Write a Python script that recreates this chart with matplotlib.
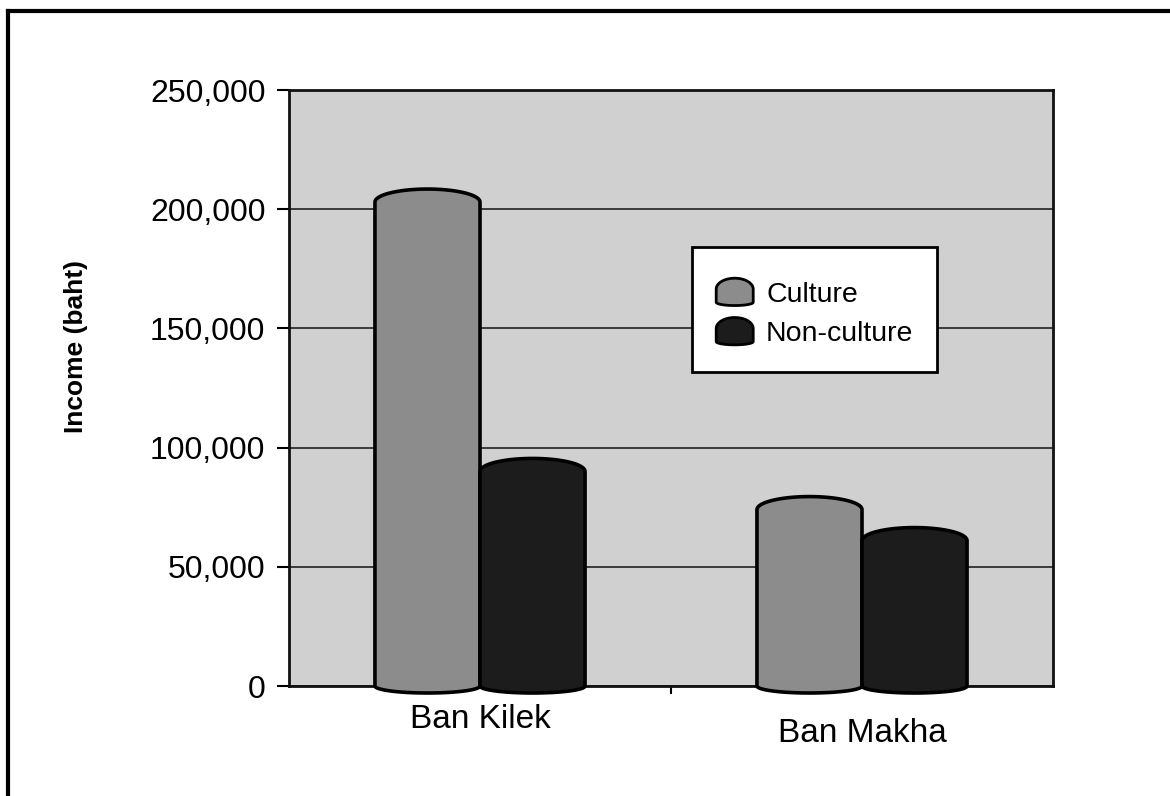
import numpy as np
import matplotlib
matplotlib.use("Agg")
import matplotlib.pyplot as plt
from matplotlib.path import Path
from matplotlib.patches import PathPatch, Rectangle
from matplotlib.legend_handler import HandlerPatch
from matplotlib.lines import Line2D
from matplotlib.ticker import FuncFormatter

plt.rcParams['font.family'] = ['Liberation Sans', 'DejaVu Sans']

villages = ["Ban Kilek", "Ban Makha"]
series = ["Culture", "Non-culture"]
culture = [203000, 74000]
non_culture = [90000, 61000]
yticks = [0, 50000, 100000, 150000, 200000, 250000]

colors = ["#8c8c8c", "#1c1c1c"]
bg = "#d0d0d0"


def cylinder_path(x0, x1, top, bottom, cap_top, cap_bot, n=40):
    # side walls with a dome on top and a shallow arc underneath
    xc = (x0 + x1) / 2
    a = (x1 - x0) / 2
    t1 = np.linspace(np.pi, 0, n)
    t2 = np.linspace(0, -np.pi, n)
    pts = [(x0, bottom), (x0, top)]
    pts += list(zip(xc + a * np.cos(t1), top + cap_top * np.sin(t1)))
    pts += [(x1, top), (x1, bottom)]
    pts += list(zip(xc + a * np.cos(t2), bottom + cap_bot * np.sin(t2)))
    pts.append((x0, bottom))
    codes = [Path.MOVETO] + [Path.LINETO] * (len(pts) - 2) + [Path.CLOSEPOLY]
    return Path(pts, codes)


fig = plt.figure(figsize=(11.7, 7.96), dpi=100)
ax = fig.add_axes([289 / 1170, 110 / 796, 764 / 1170, 596 / 796])
ax.set_facecolor(bg)

x = np.arange(len(villages))
w = 0.275
ymax = 250000
px = ymax / 596.0  # data units per pixel

for i, (vals, c) in enumerate(zip([culture, non_culture], colors)):
    off = (i - 0.5) * w
    bars = ax.bar(x + off, vals, w, color=c, edgecolor='none', zorder=3, clip_on=False)
    for b in bars:
        x0 = b.get_x()
        x1 = x0 + b.get_width()
        p = cylinder_path(x0, x1, b.get_height(), 0, 13 * px, 7 * px)
        ax.add_patch(PathPatch(p, facecolor=c, edgecolor='black', lw=2.6,
                               zorder=3 + i, clip_on=False, joinstyle='round'))

ax.set_xlim(-0.5, len(villages) - 0.5)
ax.set_ylim(0, ymax)
ax.set_yticks(yticks)
ax.yaxis.set_major_formatter(FuncFormatter(lambda v, p: f"{int(v):,}"))
ax.tick_params(axis='y', labelsize=23, length=9, width=1.5, pad=8, colors='black')
ax.set_xticks([0.5])
ax.set_xticklabels([])
ax.tick_params(axis='x', length=6, width=1.5)
ax.grid(axis='y', color='#3a3a3a', lw=1.4)
ax.set_axisbelow(True)
for s in ax.spines.values():
    s.set_linewidth(2)
    s.set_color('#111111')
    s.set_zorder(2.5)

# category labels, second one sits a bit lower
label_y = [-34, -47]
for xi, name, dy in zip(x, villages, label_y):
    ax.annotate(name, (xi, 0), xytext=(0, dy), textcoords='offset pixels',
                ha='center', va='center', fontsize=24, annotation_clip=False)

fig.text(76 / 1170, 1 - 346 / 796, "Income (baht)", rotation=90, ha='center',
         va='center', fontsize=19, fontweight='bold')


def legend_dome(legend, orig_handle, xdescent, ydescent, width, height, fontsize):
    p = cylinder_path(-xdescent, -xdescent + width, -ydescent + height * 0.6,
                      -ydescent + height * 0.12, height * 0.4, height * 0.12)
    return PathPatch(p)


# legend frame drawn on its own so the box size can be set directly
ax.add_patch(Rectangle((403 / 764, 314 / 596), 245 / 764, 125 / 596, transform=ax.transAxes,
                       facecolor='white', edgecolor='black', lw=2, zorder=9))

handles = [PathPatch(Path([(0, 0)]), facecolor=c, edgecolor='black', lw=2) for c in colors]
leg = ax.legend(handles, series, loc='upper left', bbox_to_anchor=(403 / 764, 432 / 596),
                borderaxespad=0, fontsize=20.5, frameon=False,
                borderpad=0.85, labelspacing=0.35,
                handlelength=1.3, handleheight=1.1, handletextpad=0.45,
                handler_map={PathPatch: HandlerPatch(patch_func=legend_dome)})
leg.set_zorder(10)

# outer frame around the figure
fig.add_artist(Line2D([8 / 1170, 8 / 1170], [0, 1 - 11 / 796], color='black', lw=3,
                      transform=fig.transFigure))
fig.add_artist(Line2D([8 / 1170, 1], [1 - 11 / 796, 1 - 11 / 796], color='black', lw=3,
                      transform=fig.transFigure))

fig.savefig("out.png", dpi=100, facecolor='white')
